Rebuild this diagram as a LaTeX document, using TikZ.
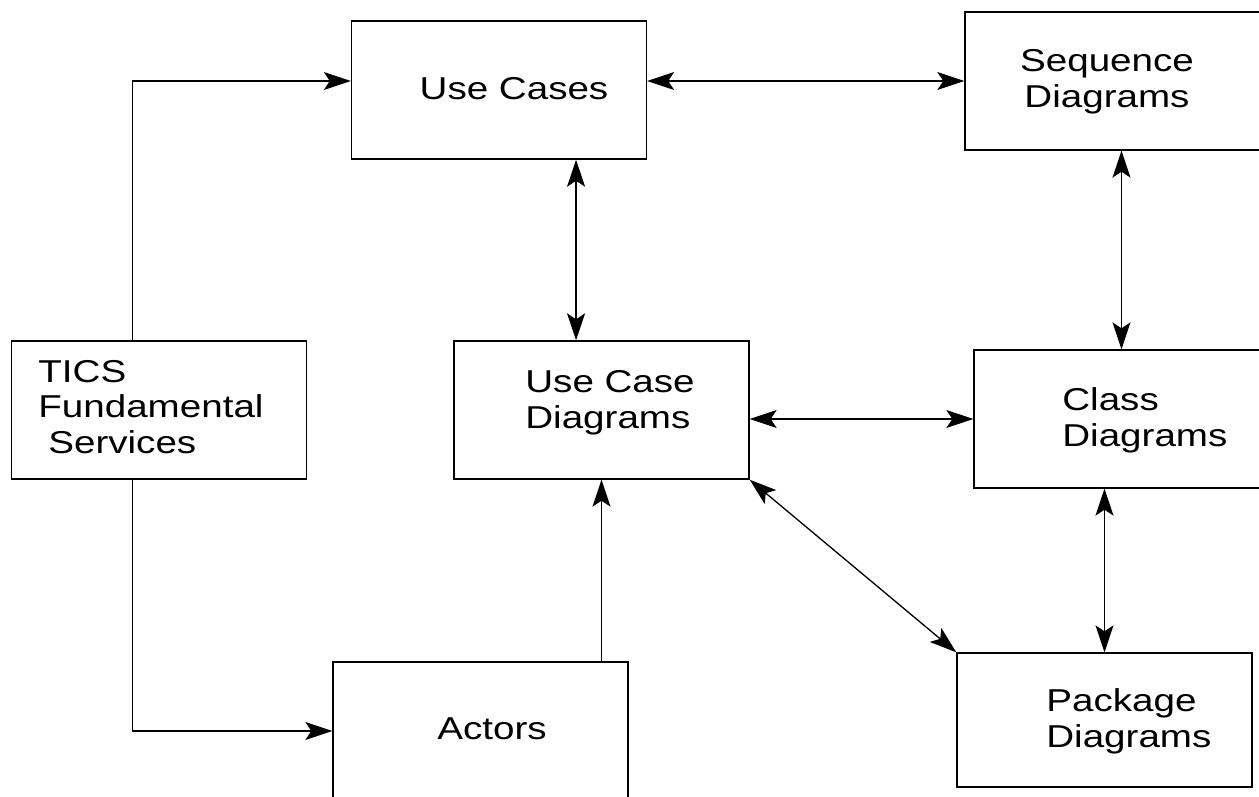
\documentclass[tikz,border=0pt]{standalone}
\usepackage{fontspec}
\newfontfamily\diagfont[FakeStretch=1.22]{Liberation Sans}
\usetikzlibrary{arrows.meta,calc}
\tikzset{
  >={Stealth[length=5.4mm, width=3.6mm, inset=1.2mm]},
}

\begin{document}
\begin{tikzpicture}[x=0.02cm, y=-0.02cm,
  box/.style={draw, line width=0.8pt, minimum width=5.9cm, minimum height=2.76cm, inner sep=0pt},
  txt/.style={font=\diagfont\fontsize{18}{20}\selectfont, inner sep=0pt, align=left},
  link/.style={->, line width=0.75pt},
  both/.style={<->, line width=0.75pt}
]
  \useasboundingbox (0,0) rectangle (1259,796);
  \clip (0,0) rectangle (1259,796);
  % boxes
  \node[box] (uc) at (499,90) {};
  \node[box] (seq) at (1112.5,81) {};
  \node[box] (tics) at (159,410) {};
  \node[box] (ucd) at (601.5,410) {};
  \node[box] (class) at (1121.5,419) {};
  \node[box] (actors) at (480.5,731) {};
  \node[box, minimum height=2.68cm] (pkg) at (1104.5,720) {};
  % texts (base = last line)
  \node[txt, anchor=base] (ucT) at (514,99) {Use Cases};
  \node[txt, anchor=base, align=center] (seqT) at (1107,107) {Sequence\\Diagrams};
  \node[txt, anchor=base west] (ticsT) at (38,453) {TICS\\Fundamental\\\hspace*{0.2cm}Services};
  \node[txt, anchor=base west] (ucdT) at (525,428) {Use Case\\Diagrams};
  \node[txt, anchor=base west] (classT) at (1062,446) {Class\\Diagrams};
  \node[txt, anchor=base west] (pkgT) at (1046,747) {Package\\Diagrams};
  \node[txt, anchor=base] (actT) at (492,739) {Actors};
  % connectors
  \coordinate (ticsN) at ($(tics.north west)!0.41!(tics.north east)$);
  \coordinate (ticsS) at ($(tics.south west)!0.41!(tics.south east)$);
  \coordinate (ucx) at ($(uc.south west)!0.76!(uc.south east)$);
  \draw[link] (ticsN) |- (uc.west |- seq.west);
  \draw[link] (ticsS) |- (actors.west);
  \draw[link] (ucd.south |- actors.north) -- (ucd.south);
  \draw[both] (ucx) -- (ucx |- ucd.north);
  \draw[both] (uc.east |- seq.west) -- (seq.west);
  \draw[both] (seq.south -| class.north) -- (class.north);
  \draw[both] (ucd.east |- class.west) -- (class.west);
  \draw[both] (ucd.south east) -- (pkg.north west);
  \draw[both] (class.south -| pkg.north) -- (pkg.north);
\end{tikzpicture}
\end{document}
